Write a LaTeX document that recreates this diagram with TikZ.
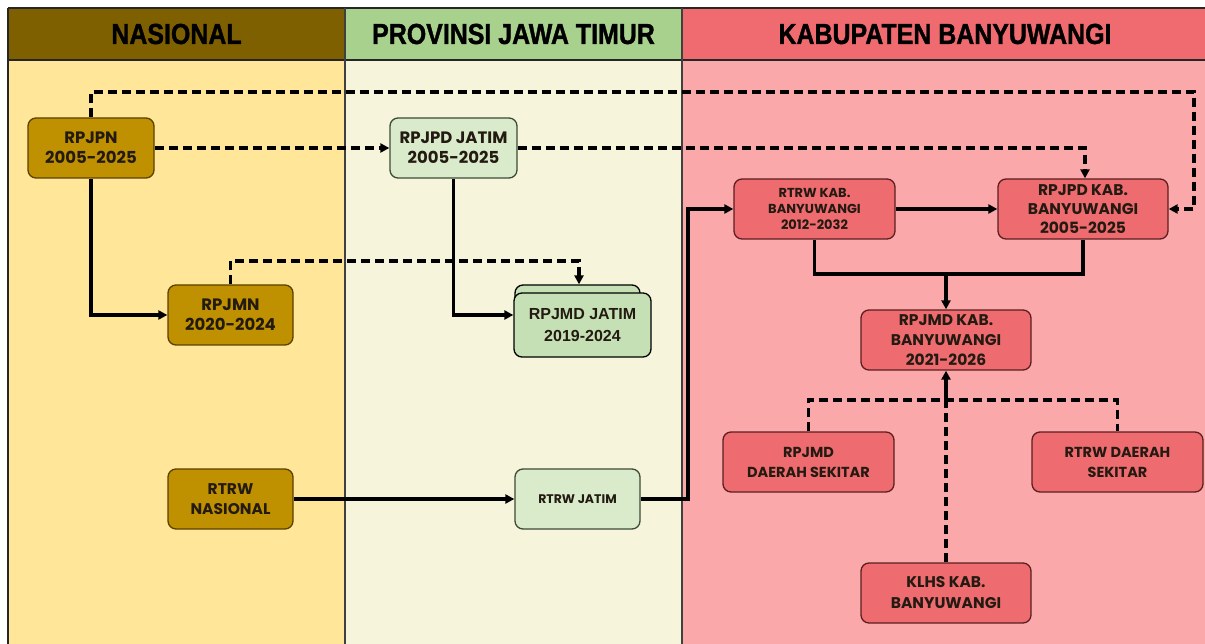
\documentclass[tikz,border=0pt]{standalone}
\usepackage{fontspec}
\usetikzlibrary{arrows.meta}
\newfontfamily\headfont{Liberation Sans}[FakeStretch=0.86,FakeBold=1.2]
\newfontfamily\boxfont{Poppins}
\newfontfamily\arialfont{Liberation Sans}
\definecolor{hNas}{HTML}{7F6000}
\definecolor{hProv}{HTML}{A9D18E}
\definecolor{hKab}{HTML}{EF6B70}
\definecolor{bNas}{HTML}{FFE699}
\definecolor{bProv}{HTML}{F6F5DC}
\definecolor{bKab}{HTML}{FBA8AA}
\definecolor{gold}{HTML}{BF9000}
\definecolor{goldEdge}{HTML}{5A4100}
\definecolor{lgreen}{HTML}{DAEBCB}
\definecolor{mgreen}{HTML}{C5E0B4}
\definecolor{greenEdge}{HTML}{3F4A36}
\definecolor{redbox}{HTML}{EE6B6F}
\definecolor{redEdge}{HTML}{5A1F22}
\definecolor{txt}{HTML}{231A12}
\tikzset{
  box/.style={draw, rounded corners=8pt, line width=1.3pt, align=center, text=txt, inner sep=2pt,
    font=\boxfont\bfseries\fontsize{16.5}{20}\selectfont},
  goldbox/.style={box, fill=gold, draw=goldEdge},
  greenbox/.style={box, fill=lgreen, draw=greenEdge},
  redbox/.style={box, fill=redbox, draw=redEdge},
  conn/.style={line width=3.4pt, black, line join=miter},
  arr/.style={conn, -{Triangle[length=9pt,width=9pt]}},
  dsh/.style={conn, dash pattern=on 9pt off 5pt},
  darr/.style={dsh, -{Triangle[length=9pt,width=9pt]}},
  head/.style={font=\headfont\bfseries\fontsize{29}{30}\selectfont, text=black}
}
\begin{document}
\begin{tikzpicture}[x=1pt,y=-1pt]
\useasboundingbox (0,0) rectangle (1205,644);
\fill[white] (0,0) rectangle (1205,644);
% backgrounds
\fill[bNas] (8,60) rectangle (345,644);
\fill[bProv] (345,60) rectangle (682,644);
\fill[bKab] (682,60) rectangle (1205,644);
\fill[hNas] (8,8) rectangle (345,60);
\fill[hProv] (345,8) rectangle (682,60);
\fill[hKab] (682,8) rectangle (1205,60);
\draw[line width=1.4pt, black!85] (8,8) -- (1205,8);
\draw[line width=1.4pt, black!85] (8,60) -- (1205,60);
\draw[line width=1.4pt, black!85] (8,8) -- (8,644);
\draw[line width=1.2pt, black!75] (345,8) -- (345,644);
\draw[line width=1.2pt, black!75] (682,8) -- (682,644);
\node[head] (hn) at (176.5,34) {NASIONAL};
\node[head] (hp) at (513.5,34) {PROVINSI JAWA TIMUR};
\node[head] (hk) at (945,34) {KABUPATEN BANYUWANGI};
% nodes
\node[goldbox, minimum width=126pt, minimum height=60pt] (rpjpn) at (91,148) {RPJPN\\2005-2025};
\node[goldbox, minimum width=125pt, minimum height=60pt] (rpjmn) at (230.5,315) {RPJMN\\2020-2024};
\node[goldbox, minimum width=125pt, minimum height=60pt, font=\boxfont\bfseries\fontsize{15.5}{20}\selectfont] (rtrwnas) at (230.5,499) {RTRW\\NASIONAL};
\node[greenbox, minimum width=127pt, minimum height=60pt] (rpjpdjatim) at (453.5,148) {RPJPD JATIM\\2005-2025};
\node[box, fill=mgreen, draw=black, minimum width=125pt, minimum height=60pt] (rpjmdback) at (577.5,315) {};
\node[box, fill=mgreen, draw=black, minimum width=137pt, minimum height=64pt, font=\arialfont\bfseries\fontsize{16}{22}\selectfont] (rpjmdjatim) at (582.5,325) {RPJMD JATIM\\2019-2024};
\node[greenbox, minimum width=125pt, minimum height=60pt, font=\boxfont\bfseries\fontsize{12.5}{14}\selectfont] (rtrwjatim) at (577.5,499) {RTRW JATIM};
\node[redbox, minimum width=161pt, minimum height=60pt, font=\boxfont\bfseries\fontsize{13}{16}\selectfont] (rtrwkab) at (814.5,209) {RTRW KAB.\\BANYUWANGI\\2012-2032};
\node[redbox, minimum width=170pt, minimum height=60pt, font=\boxfont\bfseries\fontsize{15.5}{19}\selectfont] (rpjpdkab) at (1083,209) {RPJPD KAB.\\BANYUWANGI\\2005-2025};
\node[redbox, minimum width=170pt, minimum height=60pt, font=\boxfont\bfseries\fontsize{15.5}{20}\selectfont] (rpjmdkab) at (946,340) {RPJMD KAB.\\BANYUWANGI\\2021-2026};
\node[redbox, minimum width=171pt, minimum height=60pt, font=\boxfont\bfseries\fontsize{14.5}{20}\selectfont] (rpjmddaerah) at (808.5,462) {RPJMD\\DAERAH SEKITAR};
\node[redbox, minimum width=171pt, minimum height=60pt, font=\boxfont\bfseries\fontsize{14.5}{20}\selectfont] (rtrwdaerah) at (1117.5,462) {RTRW DAERAH\\SEKITAR};
\node[redbox, minimum width=170pt, minimum height=60pt, font=\boxfont\bfseries\fontsize{15.5}{21}\selectfont] (klhs) at (946,593) {KLHS KAB.\\BANYUWANGI};
% bend coordinates
\coordinate (c1) at (1194,92);
\coordinate (c5) at (579,261);
\coordinate (b8) at (688,499);
\coordinate (m1) at (946,274);
\coordinate (m2) at (946,400);
% connectors
\draw[darr] (rpjpn.north) |- (c1) |- (rpjpdkab.east);
\draw[darr] (rpjpn.east) -- (rpjpdjatim.west);
\draw[darr] (rpjpdjatim.east) -| ([xshift=2pt]rpjpdkab.north);
\draw[arr] (rpjpn.south) |- (rpjmn.west);
\draw[darr] (rpjmn.north) |- (c5) -- (c5 |- rpjmdback.north);
\draw[arr] (rpjpdjatim.south) |- ([yshift=10pt]rpjmdjatim.west);
\draw[arr] (rtrwnas.east) -- (rtrwjatim.west);
\draw[arr] (rtrwjatim.east) -- (b8) |- (rtrwkab.west);
\draw[arr] (rtrwkab.east) -- (rpjpdkab.west);
\draw[conn] (rtrwkab.south) |- (m1) -| (rpjpdkab.south);
\draw[arr] (m1) -- (rpjmdkab.north);
\draw[dsh] (rpjmddaerah.north) |- (m2) -| (rtrwdaerah.north);
\draw[dsh] (klhs.north) -- (m2);
\draw[arr] (m2) -- (rpjmdkab.south);
\end{tikzpicture}
\end{document}
